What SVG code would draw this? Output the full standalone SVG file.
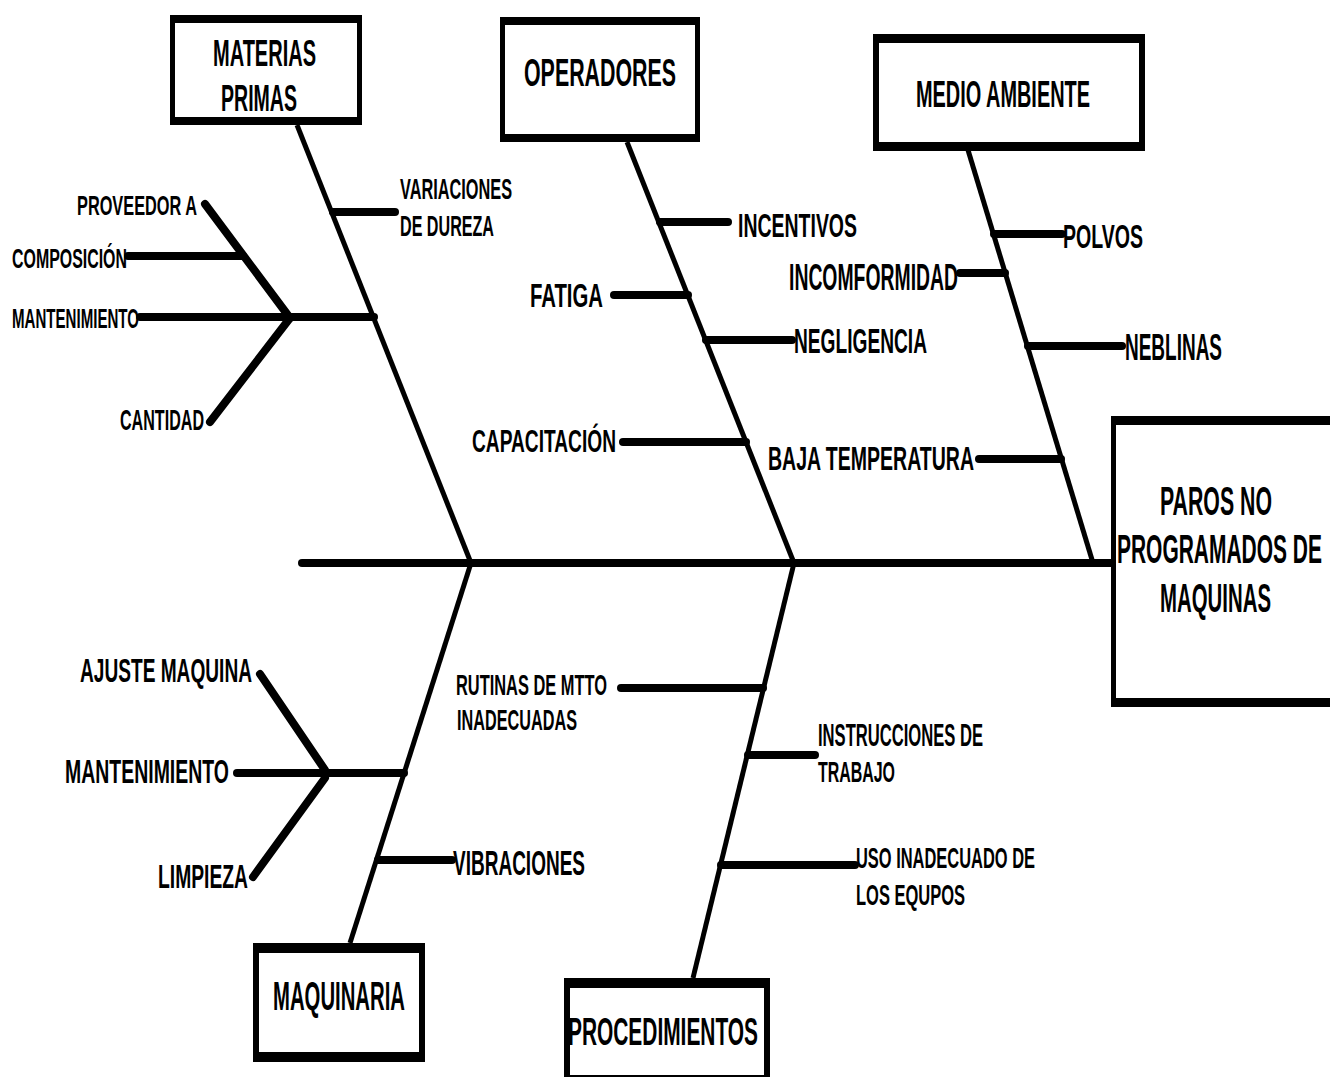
<svg xmlns="http://www.w3.org/2000/svg" width="1330" height="1077" viewBox="0 0 1330 1077">
<style>
.t{font-family:"Liberation Sans",Arial,sans-serif;font-weight:bold;fill:#000}
.bone{stroke:#000;stroke-width:5;fill:none;stroke-linecap:butt}
.sub{stroke:#000;stroke-width:8;fill:none;stroke-linecap:round}
.frame{fill:#000}
.inner{fill:#fff}
</style>
<rect width="1330" height="1077" fill="#fff"/>
<g id="connectors">
<line class="sub" x1="302" y1="563" x2="1112" y2="563"/>
<line class="bone" x1="297" y1="125" x2="471" y2="563"/>
<line class="bone" x1="627" y1="142" x2="794" y2="563"/>
<line class="bone" x1="968" y1="150" x2="1093" y2="563"/>
<line class="bone" x1="471" y1="563" x2="350" y2="943"/>
<line class="bone" x1="794" y1="563" x2="693" y2="978"/>
<line class="sub" x1="333" y1="212" x2="395" y2="212"/>
<line class="sub" x1="140" y1="317" x2="374" y2="317"/>
<line class="sub" x1="205" y1="204" x2="290" y2="318"/>
<line class="sub" x1="128" y1="256" x2="243" y2="256"/>
<line class="sub" x1="210" y1="422" x2="290" y2="318"/>
<line class="sub" x1="660" y1="222" x2="728" y2="222"/>
<line class="sub" x1="614" y1="295" x2="688" y2="295"/>
<line class="sub" x1="706" y1="340" x2="792" y2="340"/>
<line class="sub" x1="623" y1="442" x2="746" y2="442"/>
<line class="sub" x1="994" y1="234" x2="1062" y2="234"/>
<line class="sub" x1="960" y1="273" x2="1005" y2="273"/>
<line class="sub" x1="1028" y1="346" x2="1122" y2="346"/>
<line class="sub" x1="979" y1="459" x2="1061" y2="459"/>
<line class="sub" x1="621" y1="688" x2="763" y2="688"/>
<line class="sub" x1="748" y1="755" x2="815" y2="755"/>
<line class="sub" x1="721" y1="865" x2="855" y2="865"/>
<line class="sub" x1="378" y1="860" x2="452" y2="860"/>
<line class="sub" x1="237" y1="773" x2="404" y2="773"/>
<line class="sub" x1="260" y1="674" x2="325" y2="770"/>
<line class="sub" x1="253" y1="877" x2="325" y2="778"/>
</g>
<g id="materias-primas">
<rect class="frame" x="170" y="15" width="192" height="110"/>
<rect class="inner" x="175" y="23" width="182" height="94"/>
<text class="t" x="213" y="66" font-size="37" textLength="103" lengthAdjust="spacingAndGlyphs">MATERIAS</text>
<text class="t" x="221" y="111" font-size="36" textLength="76" lengthAdjust="spacingAndGlyphs">PRIMAS</text>
</g>
<g id="operadores">
<rect class="frame" x="500" y="17" width="200" height="125"/>
<rect class="inner" x="505" y="25" width="190" height="109"/>
<text class="t" x="524" y="86" font-size="38" textLength="152" lengthAdjust="spacingAndGlyphs">OPERADORES</text>
</g>
<g id="medio-ambiente">
<rect class="frame" x="873" y="34" width="272" height="117"/>
<rect class="inner" x="879" y="43" width="260" height="99"/>
<text class="t" x="916" y="107" font-size="37" textLength="174" lengthAdjust="spacingAndGlyphs">MEDIO AMBIENTE</text>
</g>
<g id="paros">
<rect class="frame" x="1111" y="416" width="219" height="291"/>
<rect class="inner" x="1116" y="425" width="214" height="273"/>
<text class="t" transform="translate(1160,515) scale(0.512,1)" font-size="41" textLength="218.7" lengthAdjust="spacingAndGlyphs">PAROS NO</text>
<text class="t" transform="translate(1117,563) scale(0.524,1)" font-size="40" textLength="391.1" lengthAdjust="spacingAndGlyphs">PROGRAMADOS DE</text>
<text class="t" transform="translate(1160,612) scale(0.51,1)" font-size="40" textLength="217.6" lengthAdjust="spacingAndGlyphs">MAQUINAS</text>
</g>
<g id="maquinaria">
<rect class="frame" x="253" y="943" width="172" height="119"/>
<rect class="inner" x="259" y="953" width="160" height="99"/>
<text class="t" x="273" y="1010" font-size="41" textLength="132" lengthAdjust="spacingAndGlyphs">MAQUINARIA</text>
</g>
<g id="procedimientos">
<rect class="frame" x="564" y="978" width="206" height="99"/>
<rect class="inner" x="570" y="988" width="194" height="87"/>
<text class="t" x="568" y="1045" font-size="39" textLength="190" lengthAdjust="spacingAndGlyphs">PROCEDIMIENTOS</text>
</g>
<g id="labels-materias">
<text class="t" x="400" y="199" font-size="29" textLength="112" lengthAdjust="spacingAndGlyphs">VARIACIONES</text>
<text class="t" x="400" y="236" font-size="30" textLength="94" lengthAdjust="spacingAndGlyphs">DE DUREZA</text>
<text class="t" x="77" y="215" font-size="28" textLength="120" lengthAdjust="spacingAndGlyphs">PROVEEDOR A</text>
<text class="t" x="12" y="268" font-size="27" textLength="115" lengthAdjust="spacingAndGlyphs">COMPOSICIÓN</text>
<text class="t" x="12" y="328" font-size="27" textLength="127" lengthAdjust="spacingAndGlyphs">MANTENIMIENTO</text>
<text class="t" x="120" y="430" font-size="30" textLength="84" lengthAdjust="spacingAndGlyphs">CANTIDAD</text>
</g>
<g id="labels-operadores">
<text class="t" x="738" y="237" font-size="34" textLength="119" lengthAdjust="spacingAndGlyphs">INCENTIVOS</text>
<text class="t" x="530" y="307" font-size="34" textLength="73" lengthAdjust="spacingAndGlyphs">FATIGA</text>
<text class="t" x="794" y="353" font-size="35" textLength="133" lengthAdjust="spacingAndGlyphs">NEGLIGENCIA</text>
<text class="t" x="472" y="452" font-size="32" textLength="144" lengthAdjust="spacingAndGlyphs">CAPACITACIÓN</text>
</g>
<g id="labels-medio">
<text class="t" x="1063" y="248" font-size="34" textLength="80" lengthAdjust="spacingAndGlyphs">POLVOS</text>
<text class="t" x="789" y="290" font-size="36" textLength="169" lengthAdjust="spacingAndGlyphs">INCOMFORMIDAD</text>
<text class="t" x="1125" y="360" font-size="36" textLength="97" lengthAdjust="spacingAndGlyphs">NEBLINAS</text>
<text class="t" x="768" y="470" font-size="34" textLength="206" lengthAdjust="spacingAndGlyphs">BAJA TEMPERATURA</text>
</g>
<g id="labels-procedimientos">
<text class="t" x="456" y="695" font-size="30" textLength="151" lengthAdjust="spacingAndGlyphs">RUTINAS DE MTTO</text>
<text class="t" x="457" y="730" font-size="30" textLength="120" lengthAdjust="spacingAndGlyphs">INADECUADAS</text>
<text class="t" x="818" y="746" font-size="31" textLength="165" lengthAdjust="spacingAndGlyphs">INSTRUCCIONES DE</text>
<text class="t" x="818" y="782" font-size="30" textLength="77" lengthAdjust="spacingAndGlyphs">TRABAJO</text>
<text class="t" x="856" y="868" font-size="30" textLength="179" lengthAdjust="spacingAndGlyphs">USO INADECUADO DE</text>
<text class="t" x="856" y="905" font-size="30" textLength="109" lengthAdjust="spacingAndGlyphs">LOS EQUPOS</text>
</g>
<g id="labels-maquinaria">
<text class="t" x="80" y="682" font-size="33" textLength="172" lengthAdjust="spacingAndGlyphs">AJUSTE MAQUINA</text>
<text class="t" x="65" y="783" font-size="34" textLength="164" lengthAdjust="spacingAndGlyphs">MANTENIMIENTO</text>
<text class="t" x="158" y="888" font-size="34" textLength="90" lengthAdjust="spacingAndGlyphs">LIMPIEZA</text>
<text class="t" x="453" y="875" font-size="35" textLength="132" lengthAdjust="spacingAndGlyphs">VIBRACIONES</text>
</g>
</svg>
